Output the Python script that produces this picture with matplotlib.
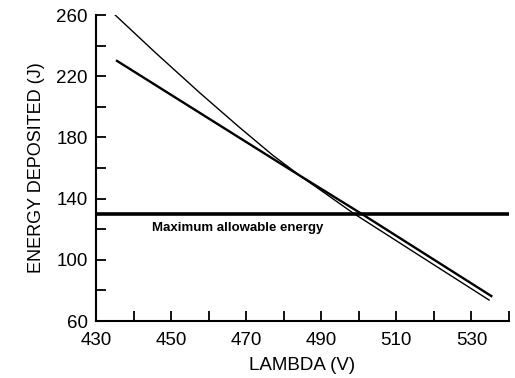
import matplotlib
matplotlib.use("Agg")
import matplotlib.pyplot as plt
from matplotlib.ticker import MultipleLocator

# Data
lam_a = [435.1, 446.0, 457.7, 468.0, 477.0, 484.3, 491.0, 498.5, 516.0, 534.7]
energy_a = [260.0, 235.0, 209.0, 187.0, 168.5, 155.0, 143.5, 130.5, 103.0, 73.7]

lam_b = [435.6, 460.0, 484.3, 501.1, 535.3]
energy_b = [230.0, 192.4, 155.0, 129.5, 76.3]

max_energy = 130
max_label = "Maximum allowable energy"

x_ticks = [430, 450, 470, 490, 510, 530]
y_ticks = [60, 100, 140, 180, 220, 260]

plt.rcParams['font.family'] = ['Liberation Sans', 'DejaVu Sans']

fig = plt.figure(figsize=(5.15, 3.78), dpi=100)
ax = fig.add_axes([96/515, 1-321/378, (509-96)/515, (321-15)/378])

ax.plot(lam_a, energy_a, color='black', lw=1.0)
ax.plot(lam_b, energy_b, color='black', lw=1.7)
ax.axhline(max_energy, color='black', lw=2.6)
ax.text(445.0, 121, max_label, fontsize=9.5, fontweight='bold', va='center', ha='left')

ax.set_xlim(430, 540)
ax.set_ylim(60, 260)
ax.set_xticks(x_ticks)
ax.set_yticks(y_ticks)
ax.xaxis.set_minor_locator(MultipleLocator(10))
ax.yaxis.set_minor_locator(MultipleLocator(20))
ax.tick_params(which='both', direction='in', length=7, width=1.3, labelsize=13.5)
ax.tick_params(axis='x', pad=8)
ax.tick_params(axis='y', pad=6)

for s in ['top', 'right']:
    ax.spines[s].set_visible(False)
for s in ['left', 'bottom']:
    ax.spines[s].set_linewidth(1.5)

ax.set_xlabel("LAMBDA (V)", fontsize=13.5, labelpad=6)
ax.set_ylabel("ENERGY DEPOSITED (J)", fontsize=13, labelpad=8)

fig.savefig("out.png", dpi=100)
